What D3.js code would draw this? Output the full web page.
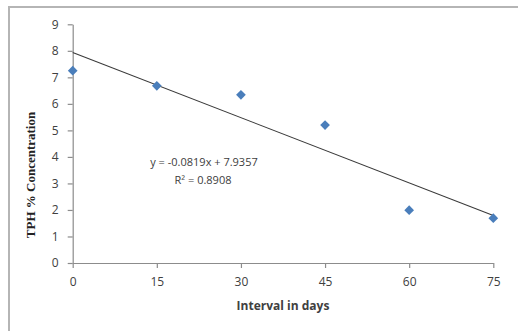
<!DOCTYPE html>
<html><head><meta charset="utf-8">
<script src="https://cdn.jsdelivr.net/npm/d3@7"></script>
<style>body{margin:0;background:#fff}svg{display:block}</style>
</head><body>
<svg id="c" width="518" height="331"></svg>
<script>
const days = [0, 15, 30, 45, 60, 75];
const tph = [7.25, 6.68, 6.34, 5.2, 1.99, 1.69];
const xTicks = [0, 15, 30, 45, 60, 75];
const yTicks = [0, 1, 2, 3, 4, 5, 6, 7, 8, 9];
const slope = -0.0819, intercept = 7.9357;
const eqLabel = "y = -0.0819x + 7.9357";
const r2Label = "R² = 0.8908";
const xTitle = "Interval in days";
const yTitle = "TPH % Concentration";

const svg = d3.select("#c");
svg.append("rect").attr("x", 9).attr("y", 7).attr("width", 530).attr("height", 340)
  .attr("fill", "#fff").attr("stroke", "#b5b5b5").attr("stroke-width", 2);

const x = d3.scaleLinear().domain([0, 75]).range([72.7, 493.3]);
const y = d3.scaleLinear().domain([0, 9]).range([263, 24.3]);

const font = "'Open Sans', 'Liberation Sans', sans-serif";

const xAxis = svg.append("g").attr("transform", "translate(0,263)")
  .call(d3.axisBottom(x).tickValues(xTicks).tickSize(5).tickPadding(9).tickSizeOuter(0));
const yAxis = svg.append("g").attr("transform", "translate(72.7,0)")
  .call(d3.axisLeft(y).tickValues(yTicks).tickSize(5).tickPadding(9).tickSizeOuter(0));
[xAxis, yAxis].forEach(a => {
  a.selectAll("path, line").attr("stroke", "#8c8c8c").attr("stroke-width", 1.2);
  a.selectAll("text").attr("fill", "#404040").attr("font-family", font).attr("font-size", 12);
});

// trendline
svg.append("line")
  .attr("x1", x(0)).attr("y1", y(intercept))
  .attr("x2", x(75)).attr("y2", y(slope * 75 + intercept))
  .attr("stroke", "#3a3a3a").attr("stroke-width", 1.1);

// markers
svg.selectAll("path.pt").data(days).enter().append("path")
  .attr("class", "pt")
  .attr("d", d3.symbol().type(d3.symbolDiamond2).size(60))
  .attr("transform", (d, i) => `translate(${x(d)},${y(tph[i])})`)
  .attr("fill", "#4a7ebb");

// equation
svg.append("text").attr("x", 204).attr("y", 166).attr("text-anchor", "middle")
  .attr("font-family", font).attr("font-size", 11).attr("fill", "#404040").text(eqLabel);
svg.append("text").attr("x", 203).attr("y", 184).attr("text-anchor", "middle")
  .attr("font-family", font).attr("font-size", 11).attr("fill", "#404040").text(r2Label);

// titles
svg.append("text").attr("x", 283).attr("y", 310).attr("text-anchor", "middle")
  .attr("font-family", font).attr("font-weight", "bold").attr("font-size", 12)
  .attr("fill", "#404040").text(xTitle);
svg.append("text").attr("transform", "translate(35,175) rotate(-90)").attr("text-anchor", "middle")
  .attr("font-family", "'Liberation Serif', 'DejaVu Serif', serif").attr("font-weight", "bold").attr("font-size", 13)
  .attr("fill", "#222").text(yTitle);
</script>
</body></html>
